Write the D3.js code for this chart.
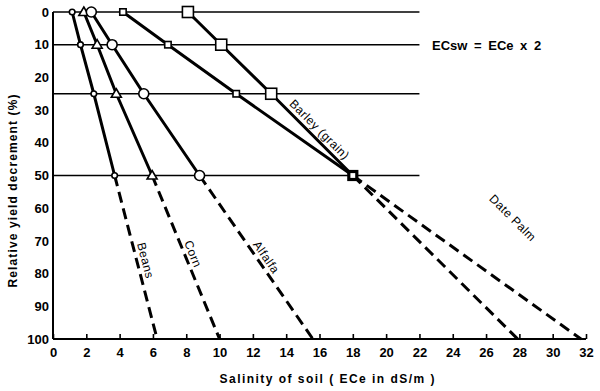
<!DOCTYPE html>
<html>
<head>
<meta charset="utf-8">
<script src="https://cdn.jsdelivr.net/npm/d3@7"></script>
<style>
  html, body { margin: 0; padding: 0; background: #fff; }
  svg { display: block; }
  text { font-family: "Liberation Sans", Arial, sans-serif; fill: #000; }
</style>
</head>
<body>
<svg id="chart" width="600" height="391"></svg>
<script>
// ---- data ----
const decrements = [0, 10, 25, 50, 100];           // relative yield decrement (%)
const beans   = [1.15, 1.65, 2.45, 3.7, 6.25];     // ECe dS/m
const corn    = [1.85, 2.65, 3.8, 5.95, 10.0];
const alfalfa = [2.3, 3.55, 5.45, 8.8, 15.6];
const barley  = [8.1, 10.1, 13.1, 18.0, 27.9];
const datePalm= [4.2, 6.9, 11.0, 18.0, 31.7];
const cropNames = ["Beans", "Corn", "Alfalfa", "Date Palm", "Barley (grain)"];
const xTicks = [0,2,4,6,8,10,12,14,16,18,20,22,24,26,28,30,32];
const yTicks = [0,10,20,30,40,50,60,70,80,90,100];
const refLines = [0, 10, 25, 50];
const refLineEnd = 22;
const noteText = "ECsw = ECe x 2";
const xTitle = "Salinity of soil ( ECe in dS/m )";
const yTitle = "Relative yield decrement (%)";

// ---- layout ----
const svg = d3.select("#chart");
const x = d3.scaleLinear().domain([0, 32]).range([53, 586]);
const y = d3.scaleLinear().domain([0, 100]).range([12, 339]);

const series = [
  { name: cropNames[0], vals: beans,    marker: "circle",   size: 2.8, label: [5.55, 76] },
  { name: cropNames[1], vals: corn,     marker: "triangle", size: 5,   label: [8.4, 74] },
  { name: cropNames[2], vals: alfalfa,  marker: "circle",   size: 5,   label: [12.8, 75] },
  { name: cropNames[3], vals: datePalm, marker: "square",   size: 3.2, label: [27.6, 63], angle: 45 },
  { name: cropNames[4], vals: barley,   marker: "square",   size: 5.5, label: [16.0, 36] }
];

// reference horizontal lines
svg.selectAll("line.ref").data(refLines).enter().append("line")
  .attr("x1", x(0)).attr("x2", x(refLineEnd))
  .attr("y1", d => y(d)).attr("y2", d => y(d))
  .attr("stroke", "#000").attr("stroke-width", 1.6);

// axes
const xAxis = d3.axisBottom(x).tickValues(xTicks).tickSize(-5).tickPadding(9);
const gx = svg.append("g").attr("transform", `translate(0,${y(100)})`).call(xAxis);
gx.select(".domain").attr("stroke-width", 2).attr("d", `M${x(0)},0H${x(32)}`);
gx.selectAll(".tick line").attr("stroke-width", 1.6);
gx.selectAll("text").attr("font-size", 13).attr("font-weight", "bold").attr("fill", "#000");

const yAxis = d3.axisLeft(y).tickValues(yTicks).tickSize(0).tickPadding(4);
const gy = svg.append("g").attr("transform", `translate(${x(0)},0)`).call(yAxis);
gy.select(".domain").attr("stroke-width", 2).attr("d", `M0,${y(0)}V${y(100)}`);
gy.selectAll("text").attr("font-size", 13).attr("font-weight", "bold").attr("fill", "#000");

// lines
const line = d3.line().x(d => x(d[0])).y(d => y(d[1]));
series.forEach(s => {
  const pts = s.vals.map((v, i) => [v, decrements[i]]);
  svg.append("path").attr("d", line(pts.slice(0, 4)))
    .attr("fill", "none").attr("stroke", "#000").attr("stroke-width", 3).attr("stroke-linejoin", "round");
  svg.append("path").attr("d", line(pts.slice(3, 5)))
    .attr("fill", "none").attr("stroke", "#000").attr("stroke-width", 3)
    .attr("stroke-dasharray", "11,6");
});

// markers
series.forEach(s => {
  const pts = s.vals.slice(0, 4).map((v, i) => [v, decrements[i]]);
  const g = svg.append("g");
  pts.forEach(p => {
    const cx = x(p[0]), cy = y(p[1]);
    // the point shared by barley and date palm is drawn once, with a heavy border
    const shared = (s.marker === "square" && p[1] === 50);
    if (shared && s.name === cropNames[3]) return;
    const sw = shared ? 3.2 : 1.6;
    const sz = shared ? 4 : s.size;
    if (s.marker === "circle") {
      g.append("circle").attr("cx", cx).attr("cy", cy).attr("r", sz)
        .attr("fill", "#fff").attr("stroke", "#000").attr("stroke-width", sw);
    } else if (s.marker === "square") {
      g.append("rect").attr("x", cx - sz).attr("y", cy - sz)
        .attr("width", 2 * sz).attr("height", 2 * sz)
        .attr("fill", "#fff").attr("stroke", "#000").attr("stroke-width", sw);
    } else {
      const r = sz;
      g.append("path")
        .attr("d", `M${cx},${cy - r}L${cx + r},${cy + r * 0.7}L${cx - r},${cy + r * 0.7}Z`)
        .attr("fill", "#fff").attr("stroke", "#000").attr("stroke-width", sw);
    }
  });
});

// labels along lines
series.forEach(s => {
  const p3 = [x(s.vals[3]), y(decrements[3])];
  const p4 = [x(s.vals[4]), y(decrements[4])];
  let ang;
  if (s.angle !== undefined) {
    ang = s.angle;
  } else if (s.name === cropNames[4]) {
    const p2 = [x(s.vals[2]), y(decrements[2])];
    ang = Math.atan2(p3[1] - p2[1], p3[0] - p2[0]) * 180 / Math.PI;
  } else {
    ang = Math.atan2(p4[1] - p3[1], p4[0] - p3[0]) * 180 / Math.PI;
  }
  const lx = x(s.label[0]), ly = y(s.label[1]);
  svg.append("text").attr("x", 0).attr("y", 0)
    .attr("transform", `translate(${lx},${ly}) rotate(${ang})`)
    .attr("text-anchor", "middle").attr("dominant-baseline", "central")
    .attr("font-size", 12).attr("letter-spacing", 0.5)
    .text(s.name);
});

// note
svg.append("text").attr("x", 432).attr("y", y(10) + 5)
  .attr("font-size", 13).attr("font-weight", "bold").attr("word-spacing", 3)
  .text(noteText);

// axis titles
svg.append("text").attr("x", 327).attr("y", 383).attr("text-anchor", "middle")
  .attr("font-size", 12).attr("font-weight", "bold")
  .attr("textLength", 215).attr("lengthAdjust", "spacing")
  .text(xTitle);
svg.append("text").attr("transform", `translate(17,191) rotate(-90)`)
  .attr("text-anchor", "middle")
  .attr("font-size", 12).attr("font-weight", "bold")
  .attr("textLength", 193).attr("lengthAdjust", "spacing")
  .text(yTitle);
</script>
</body>
</html>
